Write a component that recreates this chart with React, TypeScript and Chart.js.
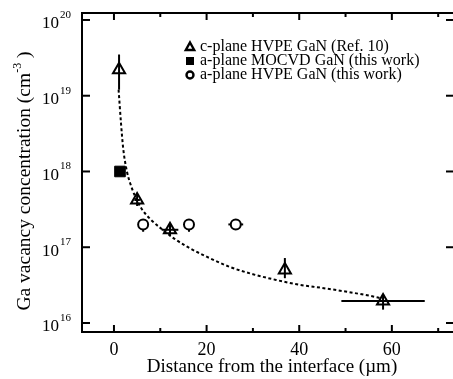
import React, { useEffect, useRef } from 'react';
import { Chart, registerables } from 'chart.js';

Chart.register(...registerables);

// c-plane HVPE GaN (Ref. 10)
const cPlaneX = [1.1, 5.0, 12.1, 36.9, 58.1];
const cPlaneY = [2.2e19, 4.2e17, 1.7e17, 5.0e16, 1.95e16];
const cPlaneXErr = [0, 0.6, 1.8, 0, 9.0];
const cPlaneYLow = [1.2e19, 3.5e17, 1.4e17, 3.9e16, 1.5e16];
const cPlaneYHigh = [3.5e19, 5.0e17, 2.05e17, 7.2e16, 2.4e16];

// a-plane MOCVD GaN (this work)
const mocvdX = [1.3];
const mocvdY = [1.0e18];

// a-plane HVPE GaN (this work)
const hvpeX = [6.3, 16.2, 26.3];
const hvpeY = [2.0e17, 2.0e17, 2.0e17];
const hvpeXErr = [0.5, 0.5, 1.6];
const hvpeYLow = [1.6e17, 1.6e17, 1.7e17];
const hvpeYHigh = [2.2e17, 2.2e17, 2.2e17];

// dashed guide curve
const fitX = [1.0, 1.5, 2.0, 2.8, 3.5, 4.5, 6, 8, 10, 13, 16, 20, 25, 30, 35, 40, 45, 50, 55, 58];
const fitY = [1.2e19, 4.5e18, 2.0e18, 1.0e18, 7.0e17, 4.8e17, 3.2e17, 2.3e17, 1.8e17, 1.3e17, 1.0e17, 7.5e16, 5.5e16, 4.4e16, 3.7e16, 3.2e16, 2.9e16, 2.6e16, 2.3e16, 2.1e16];

const xMajorTicks = [0, 20, 40, 60];
const xMinorTicks = [10, 30, 50, 70];
const yExponents = [16, 17, 18, 19, 20];

const legendLabels = ['c-plane HVPE GaN (Ref. 10)', 'a-plane MOCVD GaN (this work)', 'a-plane HVPE GaN (this work)'];
const xTitle = 'Distance from the interface (\u00b5m)';
const yTitleMain = 'Ga vacancy concentration (cm';
const yTitleSup = '-3';
const yTitleEnd = ' )';

const FONT = '"Liberation Serif", "Times New Roman", serif';

const decorPlugin = {
  id: 'decor',
  beforeDatasetsDraw(chart: any) {
    const ctx = chart.ctx;
    const xs = chart.scales.x;
    const ys = chart.scales.y;
    ctx.save();
    ctx.strokeStyle = '#000';
    ctx.lineWidth = 2;
    const line = (x1: number, y1: number, x2: number, y2: number) => {
      ctx.beginPath();
      ctx.moveTo(x1, y1);
      ctx.lineTo(x2, y2);
      ctx.stroke();
    };
    cPlaneX.forEach((x, i) => {
      const px = xs.getPixelForValue(x);
      const py = ys.getPixelForValue(cPlaneY[i]);
      line(px, ys.getPixelForValue(cPlaneYLow[i]), px, ys.getPixelForValue(cPlaneYHigh[i]));
      if (cPlaneXErr[i] > 0) {
        line(xs.getPixelForValue(x - cPlaneXErr[i]), py, xs.getPixelForValue(x + cPlaneXErr[i]), py);
      }
    });
    hvpeX.forEach((x, i) => {
      const px = xs.getPixelForValue(x);
      const py = ys.getPixelForValue(hvpeY[i]);
      line(px, ys.getPixelForValue(hvpeYLow[i]), px, ys.getPixelForValue(hvpeYHigh[i]));
      line(xs.getPixelForValue(x - hvpeXErr[i]), py, xs.getPixelForValue(x + hvpeXErr[i]), py);
    });
    ctx.restore();
  },
  afterDraw(chart: any) {
    const ctx = chart.ctx;
    const xs = chart.scales.x;
    const ys = chart.scales.y;
    const a = chart.chartArea;
    ctx.save();
    ctx.strokeStyle = '#000';
    ctx.fillStyle = '#000';
    ctx.lineWidth = 2;
    const line = (x1: number, y1: number, x2: number, y2: number) => {
      ctx.beginPath();
      ctx.moveTo(x1, y1);
      ctx.lineTo(x2, y2);
      ctx.stroke();
    };
    // frame (right edge falls outside the picture)
    ctx.beginPath();
    ctx.moveTo(a.right + 2, a.top);
    ctx.lineTo(a.left, a.top);
    ctx.lineTo(a.left, a.bottom);
    ctx.lineTo(a.right + 2, a.bottom);
    ctx.stroke();
    // x ticks (inward, top and bottom)
    xMajorTicks.forEach((v) => {
      const px = xs.getPixelForValue(v);
      line(px, a.bottom, px, a.bottom - 7);
      line(px, a.top, px, a.top + 7);
    });
    xMinorTicks.forEach((v) => {
      const px = xs.getPixelForValue(v);
      line(px, a.bottom, px, a.bottom - 4);
      line(px, a.top, px, a.top + 4);
    });
    // y ticks
    yExponents.forEach((e) => {
      const py = ys.getPixelForValue(Math.pow(10, e));
      line(a.left, py, a.left + 8, py);
      line(a.right, py, a.right - 7, py);
    });
    // x tick labels
    ctx.font = '18px ' + FONT;
    ctx.textAlign = 'center';
    ctx.textBaseline = 'middle';
    xMajorTicks.forEach((v) => {
      ctx.fillText(String(v), xs.getPixelForValue(v), a.bottom + 18);
    });
    // y tick labels
    yExponents.forEach((e) => {
      const py = ys.getPixelForValue(Math.pow(10, e));
      ctx.font = '17px ' + FONT;
      ctx.textAlign = 'right';
      ctx.fillText('10', 59, py + 4);
      ctx.font = '11px ' + FONT;
      ctx.textAlign = 'left';
      ctx.fillText(String(e), 60, py - 5);
    });
    // x title
    ctx.font = '19px ' + FONT;
    ctx.textAlign = 'center';
    ctx.fillText(xTitle, 272, a.bottom + 35);
    // y title
    ctx.save();
    ctx.translate(25, 181);
    ctx.rotate(-Math.PI / 2);
    ctx.font = '19.5px ' + FONT;
    const w1 = ctx.measureText(yTitleMain).width;
    const w3 = ctx.measureText(yTitleEnd).width;
    ctx.font = '12px ' + FONT;
    const w2 = ctx.measureText(yTitleSup).width;
    let sx = -(w1 + w2 + w3) / 2;
    ctx.textAlign = 'left';
    ctx.font = '19.5px ' + FONT;
    ctx.fillText(yTitleMain, sx, 0);
    sx += w1;
    ctx.font = '12px ' + FONT;
    ctx.fillText(yTitleSup, sx, -7);
    sx += w2;
    ctx.font = '19.5px ' + FONT;
    ctx.fillText(yTitleEnd, sx, 0);
    ctx.restore();
    // legend
    const symX = 190;
    const textX = 200;
    const rows = [47, 61, 75];
    ctx.font = '16px ' + FONT;
    ctx.textAlign = 'left';
    ctx.textBaseline = 'middle';
    legendLabels.forEach((t, i) => ctx.fillText(t, textX, rows[i]));
    ctx.lineWidth = 2.4;
    // triangle
    ctx.beginPath();
    ctx.moveTo(symX, rows[0] - 4.5);
    ctx.lineTo(symX + 4.2, rows[0] + 3);
    ctx.lineTo(symX - 4.2, rows[0] + 3);
    ctx.closePath();
    ctx.stroke();
    // square
    ctx.fillRect(symX - 4, rows[1] - 4, 8, 8);
    // circle
    ctx.beginPath();
    ctx.arc(symX, rows[2], 3.5, 0, Math.PI * 2);
    ctx.stroke();
    ctx.restore();
  },
};

export default function App() {
  const ref = useRef<HTMLCanvasElement | null>(null);
  useEffect(() => {
    if (!ref.current) return;
    const chart = new Chart(ref.current, {
      type: 'scatter',
      data: {
        datasets: [
          {
            type: 'line',
            label: 'fit',
            data: fitX.map((x, i) => ({ x, y: fitY[i] })),
            borderColor: '#000',
            borderWidth: 2,
            borderDash: [3, 2.5],
            pointRadius: 0,
            tension: 0.4,
            cubicInterpolationMode: 'monotone',
            fill: false,
          } as any,
          {
            label: legendLabels[0],
            data: cPlaneX.map((x, i) => ({ x, y: cPlaneY[i] })),
            pointStyle: 'triangle',
            pointRadius: 7,
            borderWidth: 2,
            borderColor: '#000',
            backgroundColor: 'rgba(0,0,0,0)',
          },
          {
            label: legendLabels[1],
            data: mocvdX.map((x, i) => ({ x, y: mocvdY[i] })),
            pointStyle: 'rect',
            pointRadius: 7.5,
            borderWidth: 1,
            borderColor: '#000',
            backgroundColor: '#000',
          },
          {
            label: legendLabels[2],
            data: hvpeX.map((x, i) => ({ x, y: hvpeY[i] })),
            pointStyle: 'circle',
            pointRadius: 5,
            borderWidth: 2,
            borderColor: '#000',
            backgroundColor: '#fff',
          },
        ],
      },
      options: {
        animation: false,
        responsive: false,
        maintainAspectRatio: false,
        events: [],
        layout: { autoPadding: false, padding: { left: 82, right: 0, top: 13, bottom: 47 } },
        scales: {
          x: { type: 'linear', min: -6.9, max: 73.2, display: false },
          y: { type: 'logarithmic', min: Math.pow(10, 15.881), max: Math.pow(10, 20.092), display: false },
        },
        plugins: { legend: { display: false }, tooltip: { enabled: false } },
      },
      plugins: [decorPlugin],
    });
    return () => chart.destroy();
  }, []);
  return (
    <div style={{ position: 'fixed', left: 0, top: 0, width: 453, height: 379, background: '#fff' }}>
      <canvas ref={ref} width={453} height={379} style={{ width: 453, height: 379, display: 'block' }} />
    </div>
  );
}
